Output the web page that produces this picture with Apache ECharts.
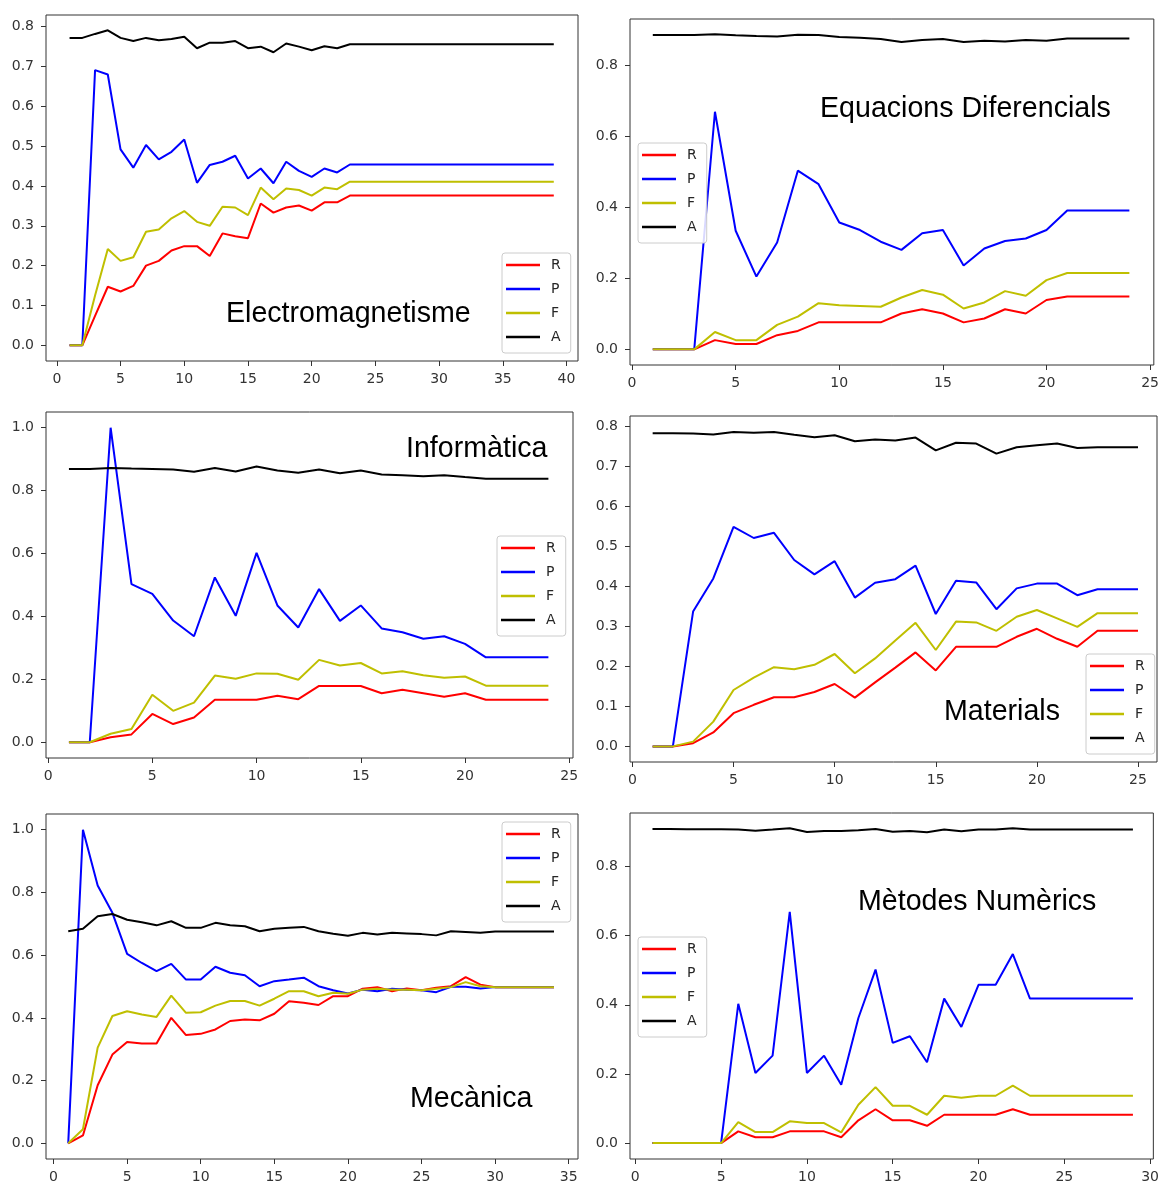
<!DOCTYPE html>
<html><head><meta charset="utf-8">
<script src="https://cdn.jsdelivr.net/npm/echarts@6/dist/echarts.min.js"></script>
<style>html,body{margin:0;padding:0;background:#fff}#c{width:1162px;height:1187px}</style>
</head><body><div id="c"></div><script>
// ---------------- data ----------------
const SERIES_NAMES = ['R','P','F','A'];

// Electromagnetisme (x = 1..39)
const EM_R = [0,0,0.074,0.147,0.135,0.149,0.200,0.212,0.238,0.249,0.249,0.224,0.281,0.274,0.269,0.356,0.333,0.346,0.351,0.338,0.359,0.359,0.376,0.376,0.376,0.376,0.376,0.376,0.376,0.376,0.376,0.376,0.376,0.376,0.376,0.376,0.376,0.376,0.376];
const EM_P = [0,0,0.691,0.680,0.492,0.446,0.503,0.467,0.486,0.517,0.408,0.453,0.461,0.476,0.419,0.444,0.407,0.461,0.438,0.423,0.444,0.434,0.454,0.454,0.454,0.454,0.454,0.454,0.454,0.454,0.454,0.454,0.454,0.454,0.454,0.454,0.454,0.454,0.454];
const EM_F = [0,0,0.125,0.242,0.212,0.221,0.285,0.291,0.319,0.337,0.310,0.300,0.348,0.346,0.327,0.396,0.367,0.394,0.390,0.376,0.396,0.392,0.411,0.411,0.411,0.411,0.411,0.411,0.411,0.411,0.411,0.411,0.411,0.411,0.411,0.411,0.411,0.411,0.411];
const EM_A = [0.772,0.772,0.782,0.791,0.772,0.764,0.772,0.766,0.769,0.775,0.746,0.760,0.760,0.764,0.746,0.750,0.736,0.758,0.750,0.741,0.751,0.746,0.756,0.756,0.756,0.756,0.756,0.756,0.756,0.756,0.756,0.756,0.756,0.756,0.756,0.756,0.756,0.756,0.756];

// Equacions Diferencials (x = 1..24)
const ED_R = [0,0,0,0.026,0.015,0.015,0.040,0.052,0.076,0.076,0.076,0.076,0.101,0.113,0.101,0.076,0.087,0.113,0.101,0.139,0.149,0.149,0.149,0.149];
const ED_P = [0,0,0,0.669,0.334,0.205,0.301,0.503,0.465,0.357,0.336,0.303,0.280,0.327,0.336,0.236,0.284,0.305,0.312,0.336,0.391,0.391,0.391,0.391];
const ED_F = [0,0,0,0.049,0.026,0.026,0.069,0.092,0.130,0.124,0.122,0.120,0.146,0.167,0.154,0.115,0.132,0.164,0.151,0.195,0.215,0.215,0.215,0.215];
const ED_A = [0.885,0.885,0.885,0.887,0.884,0.882,0.881,0.886,0.885,0.879,0.877,0.874,0.865,0.871,0.874,0.865,0.869,0.867,0.871,0.869,0.875,0.875,0.875,0.875];

// Informàtica (x = 1..24)
const IN_R = [0,0,0.016,0.025,0.090,0.058,0.079,0.135,0.135,0.135,0.148,0.137,0.179,0.179,0.179,0.156,0.167,0.156,0.145,0.156,0.135,0.135,0.135,0.135];
const IN_P = [0,0,1.0,0.503,0.472,0.387,0.337,0.524,0.402,0.602,0.435,0.365,0.487,0.386,0.435,0.362,0.350,0.329,0.337,0.313,0.270,0.270,0.270,0.270];
const IN_F = [0,0,0.027,0.042,0.151,0.100,0.126,0.212,0.202,0.219,0.218,0.199,0.262,0.244,0.252,0.219,0.226,0.213,0.205,0.209,0.180,0.180,0.180,0.180];
const IN_A = [0.869,0.869,0.872,0.870,0.869,0.867,0.860,0.872,0.861,0.877,0.864,0.857,0.867,0.855,0.864,0.851,0.849,0.846,0.849,0.843,0.838,0.838,0.838,0.838];

// Materials (x = 1..25)
const MA_R = [0,0,0.008,0.035,0.083,0.104,0.123,0.123,0.136,0.156,0.122,0.160,0.197,0.235,0.190,0.249,0.249,0.249,0.274,0.294,0.269,0.249,0.289,0.289,0.289];
const MA_P = [0,0,0.337,0.420,0.549,0.521,0.534,0.466,0.430,0.463,0.372,0.409,0.418,0.452,0.331,0.414,0.410,0.343,0.395,0.407,0.407,0.378,0.393,0.393,0.393];
const MA_F = [0,0,0.012,0.062,0.141,0.172,0.198,0.193,0.204,0.231,0.183,0.220,0.265,0.309,0.241,0.312,0.310,0.289,0.324,0.341,0.320,0.299,0.333,0.333,0.333];
const MA_A = [0.783,0.783,0.782,0.780,0.786,0.784,0.786,0.779,0.773,0.778,0.763,0.767,0.765,0.772,0.740,0.759,0.757,0.732,0.748,0.753,0.757,0.746,0.748,0.748,0.748];

// Mecànica (x = 1..34)
const ME_R = [0,0.025,0.185,0.283,0.323,0.318,0.318,0.400,0.345,0.349,0.363,0.390,0.395,0.392,0.413,0.453,0.448,0.441,0.469,0.469,0.493,0.498,0.485,0.494,0.488,0.496,0.501,0.530,0.506,0.498,0.498,0.498,0.498,0.498];
const ME_P = [0,1.0,0.822,0.735,0.604,0.575,0.549,0.572,0.522,0.522,0.563,0.544,0.536,0.501,0.517,0.522,0.528,0.501,0.488,0.478,0.490,0.485,0.493,0.490,0.488,0.482,0.499,0.499,0.494,0.498,0.498,0.498,0.498,0.498];
const ME_F = [0,0.045,0.305,0.406,0.421,0.411,0.403,0.471,0.416,0.418,0.439,0.454,0.454,0.439,0.461,0.485,0.485,0.469,0.480,0.477,0.490,0.493,0.490,0.490,0.488,0.493,0.498,0.514,0.501,0.498,0.498,0.498,0.498,0.498];
const ME_A = [0.676,0.684,0.724,0.731,0.713,0.705,0.695,0.708,0.687,0.687,0.703,0.695,0.692,0.676,0.684,0.687,0.690,0.676,0.668,0.662,0.671,0.666,0.671,0.669,0.667,0.663,0.676,0.674,0.671,0.675,0.675,0.675,0.675,0.675];

// Mètodes Numèrics (x = 1..29)
const MN_R = [0,0,0,0,0,0.034,0.017,0.017,0.034,0.034,0.034,0.017,0.066,0.098,0.066,0.066,0.050,0.082,0.082,0.082,0.082,0.098,0.082,0.082,0.082,0.082,0.082,0.082,0.082];
const MN_P = [0,0,0,0,0,0.403,0.203,0.253,0.669,0.203,0.253,0.169,0.362,0.502,0.290,0.309,0.234,0.418,0.336,0.458,0.458,0.547,0.418,0.418,0.418,0.418,0.418,0.418,0.418];
const MN_F = [0,0,0,0,0,0.061,0.032,0.032,0.063,0.058,0.058,0.031,0.111,0.162,0.108,0.108,0.082,0.137,0.131,0.137,0.137,0.166,0.137,0.137,0.137,0.137,0.137,0.137,0.137];
const MN_A = [0.909,0.909,0.908,0.908,0.908,0.907,0.904,0.907,0.911,0.900,0.903,0.903,0.905,0.909,0.901,0.903,0.899,0.907,0.902,0.907,0.907,0.911,0.907,0.907,0.907,0.907,0.907,0.907,0.907];

// tick labels
const XT_40 = [0,5,10,15,20,25,30,35,40];
const XT_35 = [0,5,10,15,20,25,30,35];
const XT_30 = [0,5,10,15,20,25,30];
const XT_25 = [0,5,10,15,20,25];
const YT_01 = [0,0.1,0.2,0.3,0.4,0.5,0.6,0.7,0.8];
const YT_02_08 = [0,0.2,0.4,0.6,0.8];
const YT_02_10 = [0,0.2,0.4,0.6,0.8,1.0];

const TITLES = ['Electromagnetisme','Equacions Diferencials','Informàtica','Materials','Mecànica','Mètodes Numèrics'];

// ---------------- layout ----------------
const panels = [
  {title:TITLES[0], d:[EM_R,EM_P,EM_F,EM_A], box:[46,15,532,346], xr:[-0.85,40.9], yr:[-0.0395,0.8295], xt:XT_40, yt:YT_01, lab:[226,314], leg:[502,253]},
  {title:TITLES[1], d:[ED_R,ED_P,ED_F,ED_A], box:[630,19,527,346], xr:[-0.1,25.18], yr:[-0.044,0.930], xt:XT_25, yt:YT_02_08, lab:[820,109], leg:[638,143]},
  {title:TITLES[2], d:[IN_R,IN_P,IN_F,IN_A], box:[46,412,527,346], xr:[-0.1,25.18], yr:[-0.05,1.05], xt:XT_25, yt:YT_02_10, lab:[406,449], leg:[497,536]},
  {title:TITLES[3], d:[MA_R,MA_P,MA_F,MA_A], box:[630,416,527,346], xr:[-0.12,25.94], yr:[-0.039,0.826], xt:XT_25, yt:YT_01, lab:[944,712], leg:[1086,654]},
  {title:TITLES[4], d:[ME_R,ME_P,ME_F,ME_A], box:[46,814,532,345], xr:[-0.51,35.63], yr:[-0.05,1.05], xt:XT_35, yt:YT_02_10, lab:[410,1099], leg:[502,822]},
  {title:TITLES[5], d:[MN_R,MN_P,MN_F,MN_A], box:[630,813,527,346], xr:[-0.31,30.19], yr:[-0.046,0.955], xt:XT_30, yt:YT_02_08, lab:[858,902], leg:[638,937]}
];

const COLORS = ['#ff0000','#0000ff','#bfbf00','#000000'];
const TICK_FONT = {fontSize:14, fontFamily:'DejaVu Sans', color:'#333'};

const grids=[], xAxes=[], yAxes=[], series=[], legends=[], graphics=[];
panels.forEach((p,i)=>{
  grids.push({left:p.box[0], top:p.box[1], width:p.box[2], height:p.box[3], show:true, borderColor:'#333', borderWidth:1, backgroundColor:'#fff', containLabel:false});
  xAxes.push({type:'value', gridIndex:i, min:p.xr[0], max:p.xr[1],
    splitLine:{show:false}, axisLine:{show:false, onZero:false},
    axisTick:{show:true, length:5, lineStyle:{color:'#333', width:1}, customValues:p.xt},
    axisLabel:Object.assign({customValues:p.xt, margin:11, formatter:v=>String(Math.round(v))}, TICK_FONT)});
  yAxes.push({type:'value', gridIndex:i, min:p.yr[0], max:p.yr[1],
    splitLine:{show:false}, axisLine:{show:false, onZero:false},
    axisTick:{show:true, length:5, lineStyle:{color:'#333', width:1}, customValues:p.yt},
    axisLabel:Object.assign({customValues:p.yt, margin:12, formatter:v=>v.toFixed(1)}, TICK_FONT)});
  SERIES_NAMES.forEach((k,j)=>{
    series.push({type:'line', name:k, xAxisIndex:i, yAxisIndex:i,
      data:p.d[j].map((v,n)=>[n+1,v]), showSymbol:false, symbol:'none', silent:true,
      lineStyle:{width:2, color:COLORS[j]}, itemStyle:{color:COLORS[j]}, z:2+j});
  });
  legends.push({orient:'vertical', left:p.leg[0], top:p.leg[1], data:SERIES_NAMES, icon:'rect',
    itemWidth:34, itemHeight:2.5, itemGap:8, padding:[4,10,8,4],
    backgroundColor:'rgba(255,255,255,0.85)', borderColor:'#cccccc', borderWidth:1, borderRadius:3,
    selectedMode:false, z:10,
    textStyle:{fontSize:14, fontFamily:'DejaVu Sans', color:'#262626', lineHeight:16, padding:[0,0,0,6]}});
  graphics.push({type:'text', x:p.lab[0], y:p.lab[1], z:20,
    style:{text:p.title, fontSize:28.6, fontFamily:'Liberation Sans', fill:'#000', verticalAlign:'middle', align:'left'}});
});

const chart = echarts.init(document.getElementById('c'), null, {renderer:'canvas'});
chart.setOption({animation:false, backgroundColor:'#fff', grid:grids, xAxis:xAxes, yAxis:yAxes, series:series, legend:legends, graphic:graphics});
</script></body></html>
